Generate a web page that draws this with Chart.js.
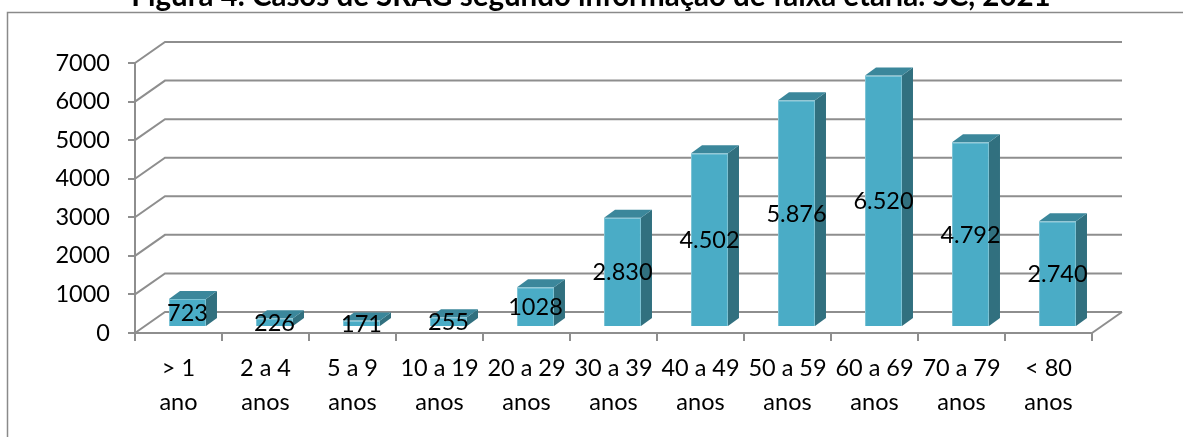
<!DOCTYPE html>
<html>
<head>
<meta charset="utf-8">
<script src="https://cdn.jsdelivr.net/npm/chart.js@4/dist/chart.umd.min.js"></script>
<style>
html, body { margin: 0; padding: 0; background: #fff; }
</style>
</head>
<body>
<canvas id="graficoSrag" width="1183" height="437"></canvas>
<script>
var titulo = "Figura 4. Casos de SRAG segundo informação de faixa etária. SC, 2021";
var faixas = [["> 1", "ano"], ["2 a 4", "anos"], ["5 a 9", "anos"], ["10 a 19", "anos"],
              ["20 a 29", "anos"], ["30 a 39", "anos"], ["40 a 49", "anos"], ["50 a 59", "anos"],
              ["60 a 69", "anos"], ["70 a 79", "anos"], ["< 80", "anos"]];
var casos = [723, 226, 171, 255, 1028, 2830, 4502, 5876, 6520, 4792, 2740];
var rotulos = ["723", "226", "171", "255", "1028", "2.830", "4.502", "5.876", "6.520", "4.792", "2.740"];
var ticksY = [0, 1000, 2000, 3000, 4000, 5000, 6000, 7000];

var cinza = "#8e8e8e";
var fonte = "Lato";
var prof = { dx: 30, dy: -21 };                  // depth of wall/floor
var barra = { dx: 9, dy: -6, lado: 11, topo: -8 }; // bar offset and bar depth

var efeito3d = {
    id: "efeito3d",
    beforeDraw: function(chart) {
        var ctx = chart.ctx;
        ctx.save();
        ctx.fillStyle = "#fff";
        ctx.fillRect(0, 0, chart.width, chart.height);
        // moldura
        ctx.strokeStyle = "#8a8a8a";
        ctx.lineWidth = 1.5;
        ctx.beginPath();
        ctx.moveTo(7.5, chart.height);
        ctx.lineTo(7.5, 12.5);
        ctx.lineTo(chart.width, 12.5);
        ctx.stroke();
        // titulo (cortado em cima)
        ctx.font = "bold 29.5px " + fonte;
        ctx.fillStyle = "#000";
        ctx.textAlign = "center";
        ctx.textBaseline = "alphabetic";
        ctx.fillText(titulo, 591, 6);
        ctx.restore();
    },
    beforeDatasetsDraw: function(chart) {
        var ctx = chart.ctx;
        var y = chart.scales.y;
        var a = chart.chartArea;
        ctx.save();
        ctx.strokeStyle = cinza;
        ctx.lineWidth = 2;
        ticksY.forEach(function(v) {
            var py = y.getPixelForValue(v);
            ctx.beginPath();
            ctx.moveTo(a.left, py);
            ctx.lineTo(a.left + prof.dx, py + prof.dy);
            ctx.lineTo(a.right + prof.dx, py + prof.dy);
            ctx.stroke();
        });
        var p0 = y.getPixelForValue(0);
        ctx.beginPath();
        ctx.moveTo(a.right, p0);
        ctx.lineTo(a.right + prof.dx, p0 + prof.dy);
        ctx.stroke();
        ctx.restore();

        ctx.save();
        ctx.translate(barra.dx, barra.dy);
    },
    afterDatasetsDraw: function(chart) {
        var ctx = chart.ctx;
        var meta = chart.getDatasetMeta(0);
        meta.data.forEach(function(bar) {
            var p = bar.getProps(["x", "y", "base", "width"], true);
            var l = p.x - p.width / 2, r = p.x + p.width / 2;
            // lado
            ctx.fillStyle = "#31707f";
            ctx.beginPath();
            ctx.moveTo(r, p.y);
            ctx.lineTo(r + barra.lado, p.y + barra.topo);
            ctx.lineTo(r + barra.lado, p.base + barra.topo);
            ctx.lineTo(r, p.base);
            ctx.closePath();
            ctx.fill();
            // topo
            ctx.fillStyle = "#3b879b";
            ctx.beginPath();
            ctx.moveTo(l, p.y);
            ctx.lineTo(l + barra.lado, p.y + barra.topo);
            ctx.lineTo(r + barra.lado, p.y + barra.topo);
            ctx.lineTo(r, p.y);
            ctx.closePath();
            ctx.fill();
        });
        ctx.font = "23.5px " + fonte;
        ctx.fillStyle = "#000";
        ctx.textAlign = "center";
        ctx.textBaseline = "middle";
        meta.data.forEach(function(bar, i) {
            var p = bar.getProps(["x", "y", "base"], true);
            ctx.fillText(rotulos[i], p.x, (p.y + p.base) / 2 + 1);
        });
        ctx.restore();
    }
};

new Chart(document.getElementById("graficoSrag"), {
    type: "bar",
    data: {
        labels: faixas,
        datasets: [{
            label: "Casos",
            data: casos,
            backgroundColor: "#4aacc6",
            borderColor: "#7cc4d6",
            borderWidth: 1,
            categoryPercentage: 1,
            barPercentage: 0.425
        }]
    },
    options: {
        responsive: false,
        animation: false,
        layout: { padding: { top: 63, right: 91, left: 0, bottom: 0 } },
        plugins: {
            legend: { display: false },
            tooltip: { enabled: false },
            title: { display: false }
        },
        scales: {
            x: {
                ticks: {
                    color: "#000",
                    font: { family: fonte, size: 23.5, lineHeight: 1.45 },
                    padding: 10,
                    maxRotation: 0,
                    autoSkip: false
                },
                grid: { drawOnChartArea: false, tickLength: 8, color: cinza, lineWidth: 2, offset: true },
                border: { color: cinza, width: 2 },
                afterFit: function(s) { s.height = 104; }
            },
            y: {
                min: 0,
                max: 7000,
                ticks: {
                    stepSize: 1000,
                    color: "#000",
                    font: { family: fonte, size: 23.5 },
                    padding: 18,
                    callback: function(v) { return String(v); }
                },
                grid: { drawOnChartArea: false, tickLength: 7, color: cinza, lineWidth: 2 },
                border: { color: cinza, width: 2 },
                afterFit: function(s) { s.width = 135; }
            }
        }
    },
    plugins: [efeito3d]
});
</script>
</body>
</html>
